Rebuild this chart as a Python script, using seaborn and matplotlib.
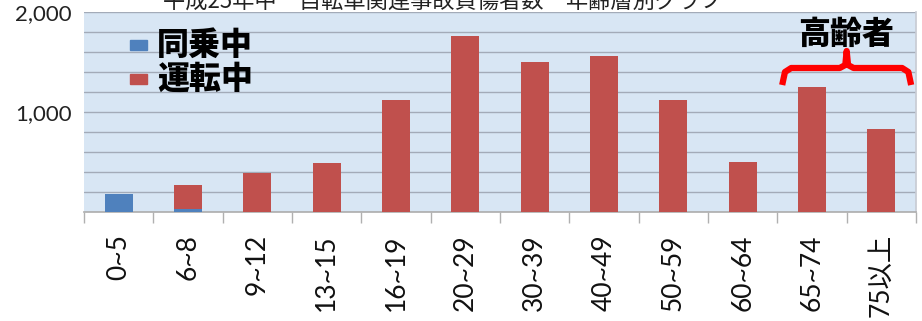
import matplotlib
matplotlib.use("Agg")
import matplotlib.pyplot as plt
from matplotlib.patches import Rectangle
from matplotlib.ticker import MultipleLocator, FixedLocator, FuncFormatter
import seaborn as sns
import pandas as pd

# 年齢層別の負傷者数
age_groups = ["0~5", "6~8", "9~12", "13~15", "16~19", "20~29", "30~39",
              "40~49", "50~59", "60~64", "65~74", "75以上"]
passenger = [180, 35, 0, 0, 0, 0, 0, 0, 0, 0, 0, 0]          # 同乗中
riding = [0, 240, 390, 490, 1120, 1760, 1500, 1560, 1120, 500, 1250, 830]  # 運転中

title_text = "平成25年中　自転車関連事故負傷者数　年齢層別グラフ"
legend_labels = ["同乗中", "運転中"]
elderly_label = "高齢者"

BLUE = "#4f81bd"
RED = "#c0504d"
GRID = "#a3abb8"

sns.set_theme(style="white")
plt.rcParams["font.family"] = ["Lato", "Noto Sans CJK JP", "DejaVu Sans"]

df = pd.DataFrame({
    "age": age_groups,
    "passenger": passenger,
    "total": [p + r for p, r in zip(passenger, riding)],
})

fig = plt.figure(figsize=(9.22, 3.21), dpi=100)
W, H = 922, 321
ax = fig.add_axes([84 / W, (H - 212) / H, 832 / W, 200 / H])
ax.set_facecolor("#d8e6f4")

# stacked bars: total in red, passenger portion in blue on top of it
sns.barplot(data=df, x="age", y="total", order=age_groups, color=RED,
            width=0.4, saturation=1, linewidth=0, ax=ax, zorder=3)
sns.barplot(data=df, x="age", y="passenger", order=age_groups, color=BLUE,
            width=0.4, saturation=1, linewidth=0, ax=ax, zorder=4)

ax.set_xlim(-0.5, len(age_groups) - 0.5)
ax.set_ylim(0, 2000)
ax.set_xlabel("")
ax.set_ylabel("")

# gridlines every 200, labels only at 1,000 and 2,000
ax.yaxis.set_major_locator(FixedLocator([1000, 2000]))
ax.yaxis.set_minor_locator(MultipleLocator(200))
ax.yaxis.set_major_formatter(FuncFormatter(lambda v, p: f"{int(v):,}"))
ax.grid(True, which="both", axis="y", color=GRID, lw=1.0, zorder=1)
ax.set_axisbelow(True)
ax.tick_params(axis="y", which="both", length=0, pad=9, labelsize=16,
               labelcolor="#222222")

# category boundary ticks below the axis
ax.xaxis.set_minor_locator(FixedLocator([i - 0.5 for i in range(len(age_groups) + 1)]))
ax.tick_params(axis="x", which="minor", length=8, width=1, color="#b0b0b0",
               direction="out", bottom=True)
ax.tick_params(axis="x", which="major", length=0, pad=16, labelsize=19,
               labelcolor="#111111")
for lab in ax.get_xticklabels():
    lab.set_rotation(90)
    lab.set_va("top")
    lab.set_ha("center")

for side in ["top", "left"]:
    ax.spines[side].set_visible(False)
ax.spines["bottom"].set_color("#b0b0b0")
ax.spines["right"].set_color("#c8ccd4")

# legend drawn as squares and heavy text
heavy = dict(family=["Noto Sans CJK JP", "DejaVu Sans"], weight="heavy",
             color="black", fontsize=23)
for (ycen, col, lab) in [(0.835, BLUE, legend_labels[0]), (0.665, RED, legend_labels[1])]:
    ax.add_patch(Rectangle((0.055, ycen - 0.025), 0.021, 0.05,
                           transform=ax.transAxes, color=col, zorder=6,
                           clip_on=False))
    ax.text(0.088, ycen, lab, transform=ax.transAxes, va="center", ha="left",
            zorder=6, **heavy)

# bracket over the elderly groups
bx = [9.57, 9.61, 9.70, 10.40, 10.48, 10.50, 10.52, 10.60, 11.30, 11.39, 11.43]
by = [1270, 1400, 1440, 1440, 1470, 1610, 1470, 1440, 1440, 1400, 1270]
ax.plot(bx, by, color="#ff0000", lw=4.5, solid_capstyle="butt",
        solid_joinstyle="round", zorder=6, clip_on=False)
ax.text(10.49, 1780, elderly_label, ha="center", va="center", zorder=6, **heavy)

# title, partly above the top edge
fig.text(0.48, 1 - 8 / H, title_text, ha="center", va="baseline",
         fontsize=16, color="#222222",
         family=["Noto Sans CJK JP", "DejaVu Sans"])

fig.savefig("out.png", dpi=100, facecolor="white")
